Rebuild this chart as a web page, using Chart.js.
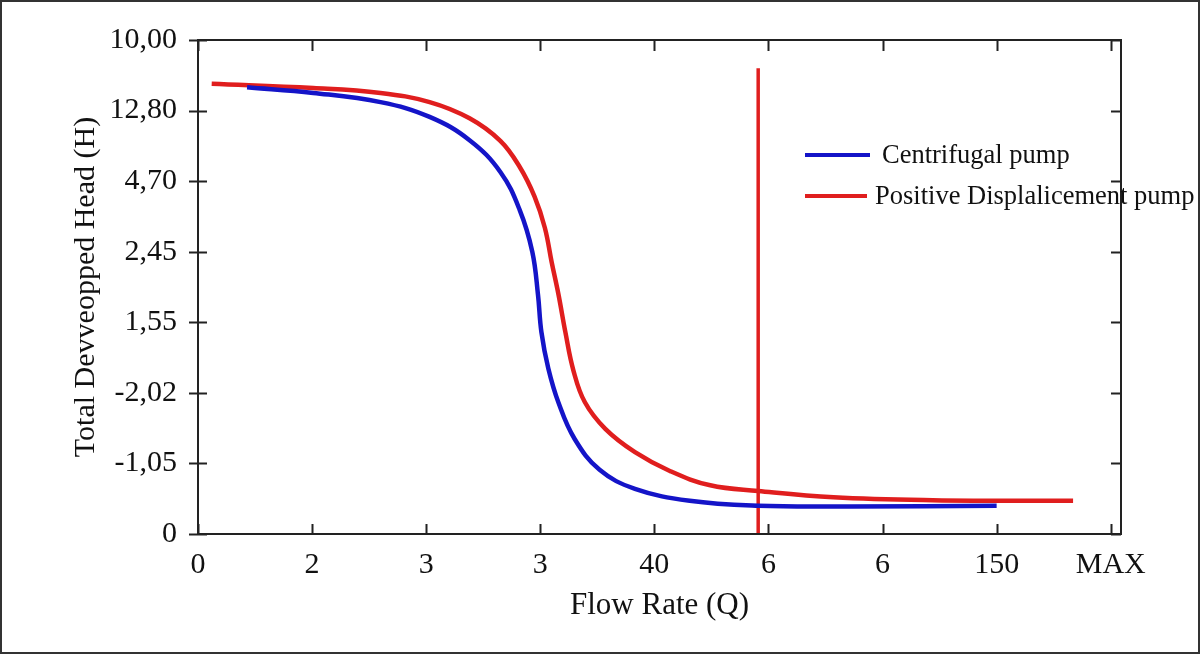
<!DOCTYPE html>
<html>
<head>
<meta charset="utf-8">
<script src="https://cdn.jsdelivr.net/npm/chart.js@4"></script>
<style>
  html, body { margin: 0; padding: 0; background: #fff; }
  #wrap { width: 1200px; height: 654px; position: relative; }
  canvas { outline: 2px solid #333; outline-offset: -2px; }
</style>
</head>
<body>
<div id="wrap"><canvas id="chart" width="1200" height="654"></canvas></div>
<script>
// tick labels (as printed on the original figure)
const xTickLabels = ['0', '2', '3', '3', '40', '6', '6', '150', 'MAX'];
const yTickLabels = ['0', '-1,05', '-2,02', '1,55', '2,45', '4,70', '12,80', '10,00'];

// curves (x and y in tick-index units)
const centrifugalQ = [0.43, 1.01, 1.60, 2.03, 2.38, 2.65, 2.82, 2.93, 2.98, 3.01, 3.07, 3.16, 3.30, 3.52, 3.83, 4.31, 4.91, 5.71, 7.00];
const centrifugalH = [6.33, 6.25, 6.12, 5.91, 5.58, 5.13, 4.59, 4.00, 3.39, 2.86, 2.35, 1.86, 1.35, 0.91, 0.64, 0.47, 0.40, 0.39, 0.40];

const displacementQ = [0.12, 1.01, 1.60, 2.03, 2.38, 2.65, 2.82, 2.95, 3.04, 3.10, 3.16, 3.22, 3.29, 3.39, 3.57, 3.83, 4.14, 4.49, 4.91, 5.57, 6.44, 7.67];
const displacementH = [6.38, 6.32, 6.25, 6.12, 5.89, 5.57, 5.20, 4.78, 4.34, 3.85, 3.39, 2.86, 2.32, 1.87, 1.49, 1.16, 0.89, 0.69, 0.61, 0.52, 0.48, 0.47];

// vertical red marker
const markerQ = [4.91, 4.91];
const markerH = [0, 6.6];

const BLUE = '#1414c8';
const RED = '#e01e1e';
const FONT = "'Liberation Serif', 'Times New Roman', serif";

const toPoints = (xs, ys) => xs.map((x, i) => ({ x: x, y: ys[i] }));

// frame + ticks like the original (ticks on all four sides)
const framePlugin = {
    id: 'frame',
    afterDraw(chart) {
        const { ctx, chartArea: a, scales } = chart;
        ctx.save();
        ctx.strokeStyle = '#222';
        ctx.lineWidth = 2;
        ctx.strokeRect(a.left, a.top, a.right - a.left, a.bottom - a.top);
        ctx.beginPath();
        scales.x.ticks.forEach(t => {
            const px = Math.round(scales.x.getPixelForValue(t.value)) + 0.5;
            ctx.moveTo(px, a.bottom); ctx.lineTo(px, a.bottom - 10);
            ctx.moveTo(px, a.top); ctx.lineTo(px, a.top + 11);
        });
        scales.y.ticks.forEach(t => {
            const py = Math.round(scales.y.getPixelForValue(t.value)) + 0.5;
            ctx.moveTo(a.left - 9, py); ctx.lineTo(a.left + 9, py);
            ctx.moveTo(a.right, py); ctx.lineTo(a.right - 10, py);
        });
        ctx.stroke();
        ctx.restore();
    }
};

// legend drawn inside the plot, as in the reference
const legendPlugin = {
    id: 'innerLegend',
    afterDraw(chart) {
        const { ctx } = chart;
        const rows = [
            { ds: chart.data.datasets[0], y: 155, x0: 805, x1: 870, tx: 882 },
            { ds: chart.data.datasets[1], y: 196, x0: 805, x1: 867, tx: 875 }
        ];
        ctx.save();
        ctx.font = '26.5px ' + FONT;
        ctx.textBaseline = 'middle';
        ctx.fillStyle = '#111';
        rows.forEach(r => {
            ctx.strokeStyle = r.ds.borderColor;
            ctx.lineWidth = 4;
            ctx.beginPath();
            ctx.moveTo(r.x0, r.y);
            ctx.lineTo(r.x1, r.y);
            ctx.stroke();
            ctx.fillText(r.ds.label, r.tx, r.y + 1);
        });
        ctx.restore();
    }
};

new Chart(document.getElementById('chart'), {
    type: 'scatter',
    data: {
        datasets: [
            {
                label: 'Centrifugal pump',
                data: toPoints(centrifugalQ, centrifugalH),
                showLine: true,
                borderColor: BLUE,
                borderWidth: 4.5,
                pointRadius: 0,
                tension: 0.4
            },
            {
                label: 'Positive Displalicement pump',
                data: toPoints(displacementQ, displacementH),
                showLine: true,
                borderColor: RED,
                borderWidth: 4.5,
                pointRadius: 0,
                tension: 0.4
            },
            {
                label: 'marker',
                data: toPoints(markerQ, markerH),
                showLine: true,
                borderColor: RED,
                borderWidth: 3.5,
                pointRadius: 0
            }
        ]
    },
    options: {
        responsive: false,
        animation: false,
        layout: { padding: { left: 68, top: 40, right: 79, bottom: 30 } },
        plugins: {
            legend: { display: false },
            tooltip: { enabled: false }
        },
        scales: {
            x: {
                type: 'linear',
                min: 0,
                max: 8.09,
                afterBuildTicks: s => { s.ticks = xTickLabels.map((_, i) => ({ value: i })); },
                afterFit: s => { s.height = 90; },
                grid: { display: false, drawTicks: false },
                border: { display: false },
                ticks: {
                    color: '#111',
                    font: { family: FONT, size: 30 },
                    padding: 13,
                    maxRotation: 0,
                    autoSkip: false,
                    callback: v => xTickLabels[v]
                },
                title: {
                    display: true,
                    text: 'Flow Rate (Q)',
                    color: '#111',
                    font: { family: FONT, size: 31 },
                    padding: 0
                }
            },
            y: {
                type: 'linear',
                min: 0,
                max: 7,
                afterBuildTicks: s => { s.ticks = yTickLabels.map((_, i) => ({ value: i })); },
                afterFit: s => { s.width = 130; },
                grid: { display: false, drawTicks: false },
                border: { display: false },
                ticks: {
                    color: '#111',
                    font: { family: FONT, size: 30 },
                    padding: 21,
                    autoSkip: false,
                    callback: v => yTickLabels[v]
                },
                title: {
                    display: true,
                    text: 'Total Devveopped Head (H)',
                    color: '#111',
                    font: { family: FONT, size: 30 },
                    padding: 0
                }
            }
        }
    },
    plugins: [framePlugin, legendPlugin]
});
</script>
</body>
</html>
